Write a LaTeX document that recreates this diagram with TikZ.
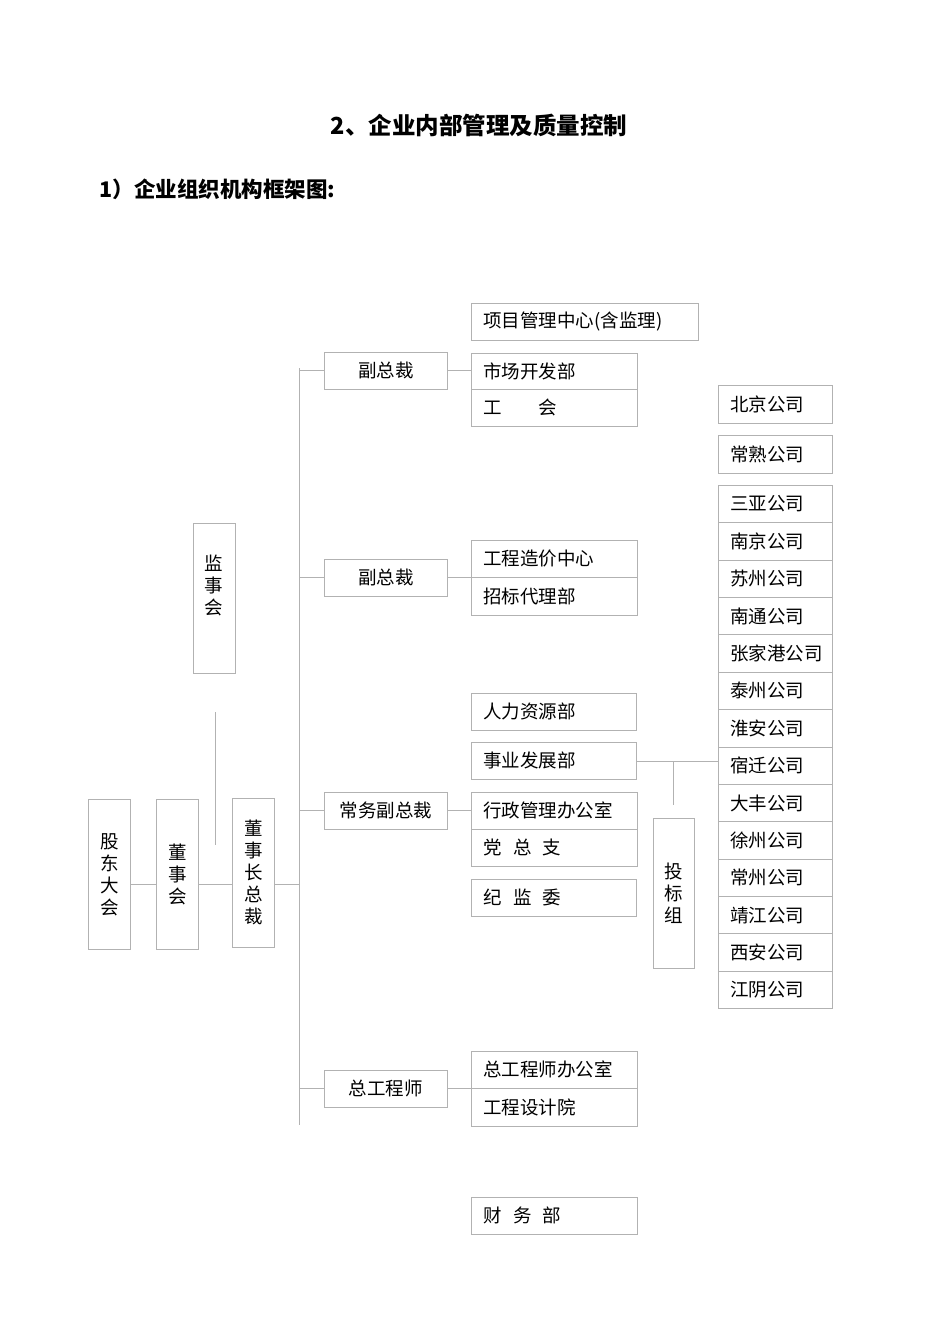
\documentclass[tikz,border=0pt]{standalone}
\usepackage{fontspec}
\setmainfont{Noto Sans CJK SC}
\begin{document}
\begin{tikzpicture}[x=1pt,y=-1pt,
  bx/.style={draw=black!30,line width=0.8pt,inner sep=0pt,font=\fontsize{18.5}{21}\selectfont},
  ln/.style={draw=black!30,line width=0.8pt}]
\useasboundingbox (0,0) rectangle (950,1344);
\newcommand\B[6]{\node[bx,minimum width=#4-#2,minimum height=#5-#3,anchor=north west,align=left,text width=#4-#2-24,inner xsep=12pt] (#1) at (#2,#3) {#6};}
\newcommand\V[6]{\node[bx,minimum width=#4-#2,minimum height=#5-#3,anchor=north west,align=center,inner xsep=0pt] (#1) at (#2,#3) {\parbox{1.2em}{\centering\baselineskip=22pt #6}};}
\newcommand\C[6]{\node[bx,minimum width=#4-#2,minimum height=#5-#3,anchor=north west,align=center] (#1) at (#2,#3) {#6};}
\node[font=\fontsize{23.5}{26}\selectfont\bfseries] (t) at (479,125) {2、企业内部管理及质量控制};
\node[font=\fontsize{21.5}{24}\selectfont\bfseries,anchor=west] (s) at (96,189) {1）企业组织机构框架图:};
% top-level
\V{gd}{88}{799}{130}{949}{股\\东\\大\\会}
\V{dsh}{156}{799}{198}{949}{董\\事\\会}
\V{dz}{232}{798}{274}{947}{董\\事\\长\\总\\裁}
\node[bx,minimum width=42,minimum height=150,anchor=north west] (jsh) at (193,523) {};
\node[font=\fontsize{18.5}{21}\selectfont,anchor=north] (jsht) at (214,551) {\parbox{1.2em}{\centering\baselineskip=22pt 监\\事\\会}};
\V{tbz}{653}{818}{694}{968}{投\\标\\组}
% VPs
\C{v1}{324}{352}{447}{389}{副总裁}
\C{v2}{324}{559}{447}{596}{副总裁}
\C{v3}{324}{792}{447}{829}{常务副总裁}
\C{v4}{324}{1070}{447}{1107}{总工程师}
% departments
\B{p1}{471}{303}{698}{340}{项目管理中心(含监理)}
\B{p2}{471}{353}{637}{389}{市场开发部}
\B{p3}{471}{389}{637}{426}{工\hspace{2em}会}
\B{p4}{471}{540}{637}{577}{工程造价中心}
\B{p5}{471}{577}{637}{615}{招标代理部}
\B{p6}{471}{693}{636}{730}{人力资源部}
\B{p7}{471}{742}{636}{779}{事业发展部}
\B{p8}{471}{792}{637}{829}{行政管理办公室}
\B{p9}{471}{829}{637}{866}{党\hspace{0.6em}总\hspace{0.6em}支}
\B{p10}{471}{879}{636}{916}{纪\hspace{0.6em}监\hspace{0.6em}委}
\B{p11}{471}{1051}{637}{1088}{总工程师办公室}
\B{p12}{471}{1088}{637}{1126}{工程设计院}
\B{p13}{471}{1197}{637}{1234}{财\hspace{0.6em}务\hspace{0.6em}部}
% companies
\B{c1}{718}{385}{832}{423}{北京公司}
\B{c2}{718}{435}{832}{473}{常熟公司}
\foreach \n [count=\i from 0] in {三亚,南京,苏州,南通,张家港,泰州,淮安,宿迁,大丰,徐州,常州,靖江,西安,江阴}{
  \pgfmathsetmacro\ya{485+37.36*\i}\pgfmathsetmacro\yb{\ya+37.36}
  \B{k\i}{718}{\ya}{832}{\yb}{\n 公司}
}
% connectors
\coordinate (bt) at (299,368);
\coordinate (bb) at (299,1125);
\draw[ln] (bt) -- (bb);
\draw[ln] (gd.east|-0,884) -- (dsh.west|-0,884);
\draw[ln] (dsh.east|-0,884) -- (dz.west|-0,884);
\draw[ln] (dz.east|-0,884) -- (299,884);
\coordinate (j1) at (215,712); \coordinate (j2) at (215,845);
\draw[ln] (j1) -- (j2);
\draw[ln] (299,370) -- (v1.west|-0,370);
\draw[ln] (299,577) -- (v2.west|-0,577);
\draw[ln] (299,810) -- (v3.west|-0,810);
\draw[ln] (299,1088) -- (v4.west|-0,1088);
\draw[ln] (v1.east|-0,370) -- (p2.west|-0,370);
\draw[ln] (v2.east|-0,577) -- (p4.west|-0,577);
\draw[ln] (v3.east|-0,810) -- (p8.west|-0,810);
\draw[ln] (v4.east|-0,1088) -- (p11.west|-0,1088);
\draw[ln] (p7.east|-0,761) -- (k7.west|-0,761);
\coordinate (tb) at (673,805);
\draw[ln] (673,761) -- (tb);
\end{tikzpicture}
\end{document}
